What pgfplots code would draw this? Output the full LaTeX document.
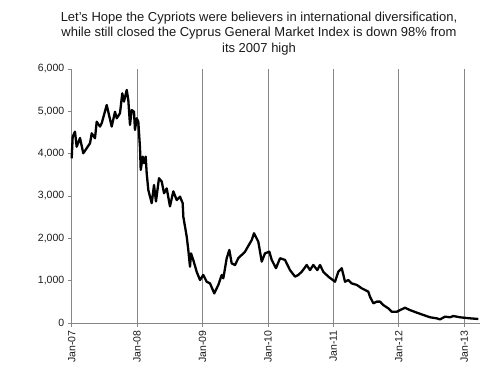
\documentclass[border=0pt]{standalone}
\usepackage{fontspec}
\setmainfont{Liberation Sans}
\usepackage{pgfplots}
\pgfplotsset{compat=1.18}
\definecolor{gridgray}{HTML}{868686}
\definecolor{txt}{HTML}{1A1A1A}
\begin{document}
\begin{tikzpicture}
\useasboundingbox (-71.7pt,-59pt) rectangle (413.3pt,323pt);
\begin{axis}[
  at={(0pt,0pt)}, anchor=south west,
  scale only axis, width=408.3pt, height=254pt,
  xmin=2007, xmax=2013.24, ymin=0, ymax=6000,
  axis x line*=bottom, axis y line*=left,
  axis line style={gridgray, line width=0.8pt},
  xtick={2007,2008,2009,2010,2011,2012,2013},
  xticklabels={Jan-07,Jan-08,Jan-09,Jan-10,Jan-11,Jan-12,Jan-13},
  ytick={0,1000,2000,3000,4000,5000,6000},
  xmajorgrids, grid style={gridgray, line width=0.8pt},
  tick style={gridgray, line width=0.8pt},
  tick align=outside, major tick length=4pt,
  x tick label style={rotate=90, anchor=east, font=\fontsize{10.5}{12}\selectfont, text=txt},
  y tick label style={font=\fontsize{10.5}{12}\selectfont, text=txt},
  yticklabel style={/pgf/number format/1000 sep={,}},
  scaled y ticks=false,
  /pgf/number format/assume math mode=true,
  clip=false,
]
\addplot[black, line width=2.3pt, line join=round] coordinates {
(2007.000,3890) (2007.015,4400) (2007.050,4520) (2007.076,4165) (2007.127,4370)
(2007.177,4010) (2007.280,4245) (2007.306,4480) (2007.356,4365) (2007.382,4755)
(2007.433,4640) (2007.459,4720) (2007.535,5150) (2007.611,4640) (2007.662,4990)
(2007.688,4835) (2007.738,4955) (2007.773,5425) (2007.799,5230) (2007.841,5505)
(2007.865,5270) (2007.891,4680) (2007.917,5030) (2007.952,4990) (2007.967,4560)
(2007.993,4835) (2008.018,4755) (2008.044,4130) (2008.055,3615) (2008.085,3930)
(2008.105,3775) (2008.131,3930) (2008.146,3540) (2008.171,3140) (2008.223,2830)
(2008.258,3260) (2008.288,2870) (2008.334,3420) (2008.376,3340) (2008.411,3065)
(2008.452,3180) (2008.502,2755) (2008.553,3110) (2008.605,2905) (2008.655,2985)
(2008.696,2830) (2008.706,2510) (2008.758,2040) (2008.782,1725) (2008.808,1330)
(2008.823,1645) (2008.858,1490) (2008.910,1210) (2008.961,1015) (2009.011,1135)
(2009.063,975) (2009.114,935) (2009.179,700) (2009.241,900) (2009.293,1135)
(2009.317,1055) (2009.369,1530) (2009.409,1725) (2009.445,1410) (2009.496,1370)
(2009.546,1530) (2009.623,1645) (2009.649,1685) (2009.751,1960) (2009.786,2120)
(2009.852,1920) (2009.904,1450) (2009.954,1645) (2010.020,1685) (2010.057,1490)
(2010.122,1295) (2010.184,1530) (2010.260,1490) (2010.336,1250) (2010.413,1095)
(2010.463,1135) (2010.515,1210) (2010.592,1370) (2010.642,1250) (2010.692,1370)
(2010.754,1250) (2010.795,1370) (2010.845,1210) (2010.922,1095) (2011.024,975)
(2011.075,1210) (2011.127,1295) (2011.177,975) (2011.227,1015) (2011.279,935)
(2011.356,900) (2011.432,820) (2011.483,780) (2011.533,740) (2011.559,620)
(2011.610,465) (2011.661,505) (2011.712,505) (2011.762,425) (2011.839,345)
(2011.891,265) (2011.967,265) (2012.018,305) (2012.094,360) (2012.170,305)
(2012.273,245) (2012.374,190) (2012.476,135) (2012.578,110) (2012.629,85)
(2012.705,150) (2012.782,135) (2012.832,165) (2012.934,135) (2013.087,110)
(2013.214,95)
};
\end{axis}
\node[align=center, font=\fontsize{13}{15.5}\selectfont, text=txt] at (187.3pt,289.5pt)
  {Let's Hope the Cypriots were believers in international diversification,\\
   while still closed the Cyprus General Market Index is down 98\% from\\
   its 2007 high};
\end{tikzpicture}
\end{document}
